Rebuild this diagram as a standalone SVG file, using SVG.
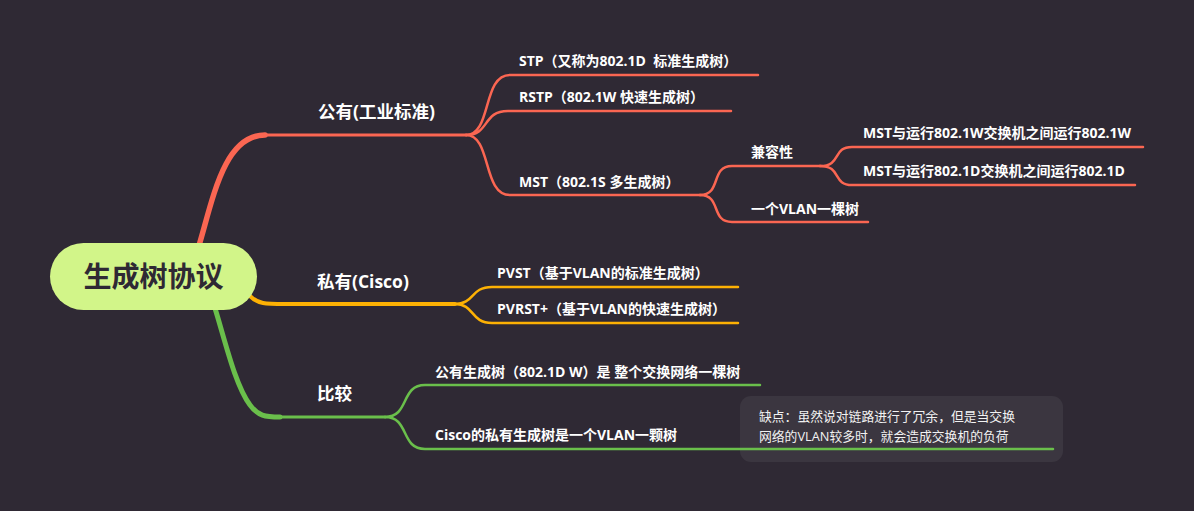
<svg xmlns="http://www.w3.org/2000/svg" width="1194" height="511" viewBox="0 0 1194 511">
<style>
text{font-family:"Open Sans","Noto Sans CJK SC",sans-serif;fill:#ffffff}
.l1{font-size:17.5px;font-weight:bold}
.l2{font-size:14px;font-weight:bold}
.note{font-size:12.8px;font-weight:normal;fill:#f2f2f2}
.root{font-size:28px;font-weight:bold;fill:#2f2934;font-family:"Noto Sans CJK SC",sans-serif}
.r{stroke:#fb6652;fill:none;stroke-linecap:round}
.o{stroke:#fdb104;fill:none;stroke-linecap:round}
.g{stroke:#6abf4b;fill:none;stroke-linecap:round}
.t{stroke-width:2.5}
</style>
<rect width="1194" height="511" fill="#2f2934"/>
<g id="connectors">
  <path class="r" d="M197,252 C212,205 222,135 265,135" stroke-width="5.5"/>
  <path class="r" d="M265,135 L466,135" stroke-width="3"/>
  <path class="r t" d="M466,135 C492,135 482,75 510,75 L758,75"/>
  <path class="r t" d="M466,135 C490,135 482,111 508,111 L731,111"/>
  <path class="r t" d="M466,135 C492,135 482,195 510,195 L700,195"/>
  <path class="r t" d="M700,195 C722,195 710,166 732,166 L820,166"/>
  <path class="r t" d="M700,195 C722,195 710,222 732,222 L868,222"/>
  <path class="r t" d="M820,166 C842,166 832,147 852,147 L1143,147"/>
  <path class="r t" d="M820,166 C842,166 832,185 852,185 L1135,185"/>
  <path class="o" d="M250,296 C258,304 265,304 285,304 L455,304" stroke-width="4"/>
  <path class="o t" d="M455,304 C475,304 470,287 492,287 L738,287"/>
  <path class="o t" d="M455,304 C475,304 470,323 492,323 L738,323"/>
  <path class="g" d="M214,305 C225,340 235,385 250,405 C258,416 265,417 280,417" stroke-width="5"/>
  <path class="g" d="M280,417 L385,417" stroke-width="3"/>
  <rect x="740" y="396" width="323" height="66" rx="11" fill="#3b3640"/>
  <path class="g t" d="M385,417 C410,417 400,385 425,385 L760,385"/>
  <path class="g t" d="M385,417 C410,417 400,449 425,449 L1053,449"/>
</g>
<g id="root">
  <rect x="50" y="243" width="207" height="67" rx="33.5" fill="#d2f589"/>
  <text class="root" x="153.5" y="287" text-anchor="middle">生成树协议</text>
</g>
<g id="n-public"><text class="l1" x="318" y="118">公有(工业标准)</text></g>
<g id="n-stp"><text class="l2" x="519" y="66">STP（又称为802.1D&#160; 标准生成树）</text></g>
<g id="n-rstp"><text class="l2" x="519" y="102">RSTP（802.1W 快速生成树）</text></g>
<g id="n-mst"><text class="l2" x="519" y="187">MST（802.1S 多生成树）</text></g>
<g id="n-compat"><text class="l2" x="751" y="157" font-weight="normal">兼容性</text></g>
<g id="n-mst1"><text class="l2" x="863" y="138">MST与运行802.1W交换机之间运行802.1W</text></g>
<g id="n-mst2"><text class="l2" x="863" y="176">MST与运行802.1D交换机之间运行802.1D</text></g>
<g id="n-onevlan"><text class="l2" x="751" y="214">一个VLAN一棵树</text></g>
<g id="n-private"><text class="l1" x="317" y="288">私有(Cisco)</text></g>
<g id="n-pvst"><text class="l2" x="497" y="278">PVST（基于VLAN的标准生成树）</text></g>
<g id="n-pvrst"><text class="l2" x="497" y="314">PVRST+（基于VLAN的快速生成树）</text></g>
<g id="n-compare"><text class="l1" x="317" y="400">比较</text></g>
<g id="n-pub-tree"><text class="l2" x="435" y="377" font-weight="normal">公有生成树（802.1D W）是 整个交换网络一棵树</text></g>
<g id="n-cisco-tree"><text class="l2" x="435" y="440">Cisco的私有生成树是一个VLAN一颗树</text></g>
<g id="n-note">
  <text class="note" x="759" y="421">缺点：虽然说对链路进行了冗余，但是当交换</text>
  <text class="note" x="759" y="441">网络的VLAN较多时，就会造成交换机的负荷</text>
</g>
</svg>
